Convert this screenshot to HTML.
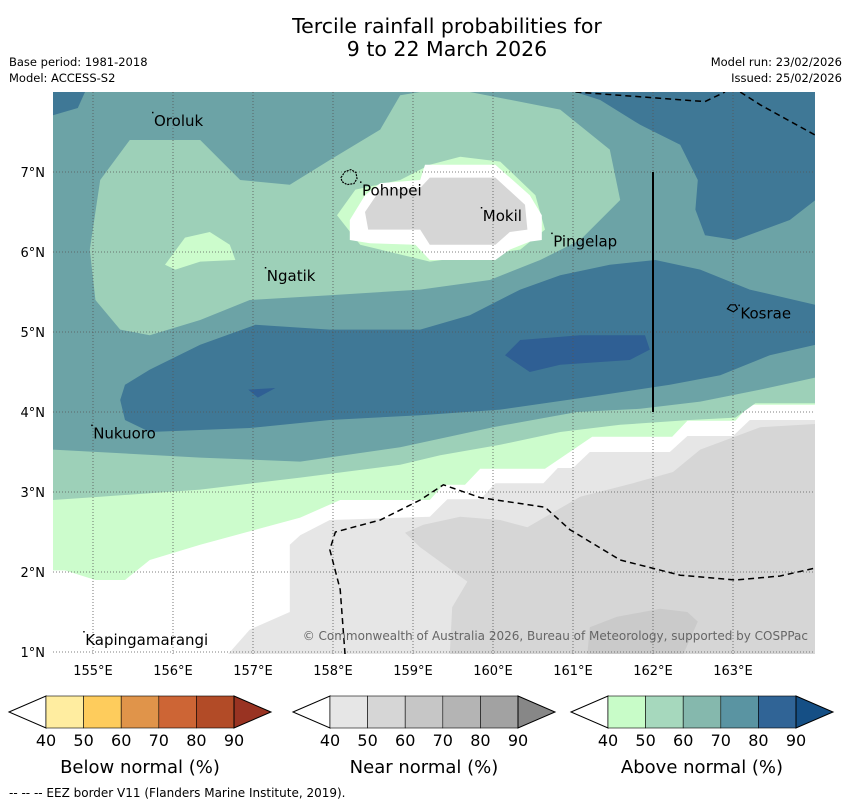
<!DOCTYPE html>
<html><head><meta charset="utf-8"><style>
html,body{margin:0;padding:0;background:#fff;}
svg{display:block;font-family:"DejaVu Sans","Liberation Sans",sans-serif;}
</style></head><body>
<svg id="map" width="850" height="804" viewBox="0 0 850 804" xmlns="http://www.w3.org/2000/svg">
<text x="447" y="33" font-size="20.5" text-anchor="middle">Tercile rainfall probabilities for</text>
<text x="447" y="56" font-size="20.5" text-anchor="middle">9 to 22 March 2026</text>
<text x="9" y="66" font-size="11.5">Base period: 1981-2018</text>
<text x="9" y="82" font-size="11.5">Model: ACCESS-S2</text>
<text x="842" y="66" font-size="11.5" text-anchor="end">Model run: 23/02/2026</text>
<text x="842" y="82" font-size="11.5" text-anchor="end">Issued: 25/02/2026</text>
<defs><clipPath id="mc"><rect x="53" y="92" width="762" height="562"/></clipPath></defs>
<rect x="53" y="92" width="762" height="562" fill="#fff"/>
<g id="layers" clip-path="url(#mc)"></g>
<g id="overlay"></g>
<text x="808" y="640" font-size="12" fill="#666" text-anchor="end">© Commonwealth of Australia 2026, Bureau of Meteorology, supported by COSPPac</text>
<g id="axes"></g>
<g id="legend"></g>
<text x="9" y="797" font-size="12">--  --  -- EEZ border V11 (Flanders Marine Institute, 2019).</text>
</svg>
<script>
// Map extent
const lonMin = 154.5, lonMax = 164.025, latMin = 0.975, latMax = 8;
const lonTicks = [155,156,157,158,159,160,161,162,163];
const latTicks = [1,2,3,4,5,6,7];
const legendTicks = ["40","50","60","70","80","90"];
const belowColors = ["#ffeda0","#fecc5c","#e0944a","#cd6535","#b24b27"];
const nearColors = ["#e6e6e6","#d6d6d6","#c6c6c6","#b4b4b4","#a2a2a2"];
const aboveColors = ["#c8fcc8","#a6d8bd","#85b8ad","#5a94a2","#306496"];

// Contour polygons [lon, lat]
const polyLightGreen = [[154.5,8],[164.03,8],[164.03,4.09],[163.21,4.09],[163.03,3.89],[162.43,3.89],[162.24,3.69],[161.24,3.69],[160.65,3.29],[159.84,3.29],[159.65,3.09],[159.38,3.09],[159.21,2.9],[158.09,2.9],[157.59,2.68],[156.34,2.34],[155.71,2.15],[155.4,1.9],[155.03,1.9],[154.65,2.02],[154.5,2.02]];
const polyGreen = [[154.5,8],[164.03,8],[164.03,4.11],[163.28,4.11],[163.03,3.93],[162.46,3.9],[161.59,3.84],[160.84,3.75],[160.09,3.59],[159.34,3.46],[158.84,3.34],[157.59,3.18],[156.34,3.03],[155.09,2.94],[154.5,2.9]];
const polyTeal = [[154.5,8],[164.03,8],[164.03,4.43],[163.34,4.28],[162.59,4.13],[161.84,4.04],[161.05,4.0],[160.0,3.81],[158.84,3.56],[157.59,3.38],[156.34,3.43],[154.5,3.53]];
const polyGreenBlob = [[154.96,6.03],[155.09,6.9],[155.46,7.4],[156.34,7.4],[156.84,6.9],[157.46,6.84],[157.96,7.15],[158.59,7.53],[158.84,7.96],[159.09,8],[159.71,8],[160.84,7.78],[161.46,7.28],[161.59,6.65],[161.09,6.15],[160.59,5.9],[159.96,5.65],[159.09,5.53],[157.96,5.46],[156.96,5.4],[156.34,5.15],[155.71,4.96],[155.34,5.03],[155.03,5.4]];
const polyHole = [[155.9,5.84],[156.15,6.18],[156.46,6.25],[156.71,6.09],[156.78,5.9],[156.34,5.88],[156.03,5.78]];
const polyBlueBand = [[155.4,4.34],[155.71,4.53],[156.34,4.84],[157.03,5.09],[157.96,5.03],[159.09,5.03],[159.71,5.21],[160.34,5.53],[160.84,5.71],[161.46,5.84],[162.03,5.9],[162.59,5.78],[163.21,5.53],[164.03,5.34],[164.03,4.84],[163.46,4.71],[162.84,4.46],[162.21,4.34],[161.34,4.21],[160.09,4.03],[159.09,3.96],[157.96,3.9],[156.96,3.8],[155.71,3.75],[155.4,3.9],[155.34,4.15]];
const polyBlueNE = [[161.03,8],[161.34,7.9],[161.84,7.59],[162.34,7.34],[162.56,6.9],[162.53,6.53],[162.65,6.21],[163.03,6.15],[163.71,6.4],[164.03,6.65],[164.03,8]];
const polyBlueNW = [[154.5,8],[154.9,8],[154.81,7.8],[154.5,7.71]];
const polyDarkBlue = [[160.15,4.71],[160.34,4.9],[161.09,4.96],[161.9,4.96],[161.96,4.78],[161.71,4.65],[160.84,4.59],[160.46,4.5]];
const polyDarkBlue2 = [[156.94,4.28],[157.28,4.3],[157.06,4.18]];
const polyHalo = [[158.05,6.46],[158.28,6.78],[158.84,6.9],[159.21,7.09],[159.59,7.19],[160.09,7.13],[160.53,6.71],[160.65,6.28],[160.34,6.03],[159.21,5.88],[158.34,6.09]];
const polyBubbleWhite = [[158.21,6.4],[158.4,6.71],[158.59,6.86],[159.09,6.9],[159.15,7.09],[160.03,7.09],[160.46,6.71],[160.61,6.46],[160.61,6.15],[160.46,6.13],[160.21,6.03],[160.03,5.9],[159.21,5.9],[159.03,6.09],[158.46,6.11],[158.21,6.15]];
const polyBubbleGray = [[158.4,6.5],[158.59,6.78],[159.09,6.8],[159.21,6.93],[160.03,6.93],[160.4,6.59],[160.43,6.28],[160.21,6.25],[160.03,6.09],[159.21,6.09],[159.09,6.28],[158.44,6.28]];
const polyGrayLight = [[156.69,0.975],[156.96,1.28],[157.46,1.5],[157.46,2.34],[157.59,2.46],[157.96,2.65],[159.21,2.69],[159.43,2.91],[159.84,2.91],[160.03,3.11],[160.63,3.11],[160.81,3.3],[161.0,3.3],[161.21,3.5],[162.21,3.5],[162.43,3.7],[163.0,3.7],[163.21,3.9],[164.03,3.9],[164.03,0.975]];
const polyGrayMid = [[158.9,2.49],[159.13,2.59],[159.59,2.69],[160.09,2.65],[160.43,2.56],[161.09,2.94],[161.75,3.11],[162.25,3.25],[162.59,3.53],[163.34,3.81],[164.03,3.85],[164.03,0.975],[159.46,0.975],[159.49,1.56],[159.68,1.88],[159.09,2.31]];
const polyGrayDark = [[161.18,0.975],[161.21,1.31],[161.55,1.44],[162.09,1.54],[162.43,1.5],[162.56,1.38],[162.38,0.975]];

const eezNorth1 = [[161.03,8],[162.65,7.88],[162.9,8]];
const eezNorth2 = [[163.09,8],[163.34,7.84],[164.03,7.46]];
const eezSouth = [[158.15,0.975],[158.09,1.78],[157.96,2.28],[158.03,2.5],[158.59,2.65],[159.09,2.9],[159.38,3.09],[159.84,2.93],[160.65,2.81],[160.96,2.53],[161.59,2.15],[162.34,1.96],[163.03,1.9],[163.59,1.95],[164.03,2.05]];
const boundaryLine = [[162,7],[162,4]];

const placeNames = ["Oroluk","Pohnpei","Mokil","Pingelap","Ngatik","Kosrae","Nukuoro","Kapingamarangi"];
const placeLon = [155.75,158.35,159.86,160.74,157.16,163.08,154.99,154.89];
const placeLat = [7.74,6.87,6.55,6.23,5.8,5.33,3.83,1.25];

const X0=53, X1=815, Y0=92, Y1=654;
function xs(lon){return X0+(lon-lonMin)/(lonMax-lonMin)*(X1-X0);}
function ys(lat){return Y1-(lat-latMin)/(latMax-latMin)*(Y1-Y0);}
const NS="http://www.w3.org/2000/svg";
function mk(tag,attrs,parent){const e=document.createElementNS(NS,tag);for(const k in attrs)e.setAttribute(k,attrs[k]);parent.appendChild(e);return e;}
function pts(p){return p.map(q=>xs(q[0]).toFixed(1)+","+ys(q[1]).toFixed(1)).join(" ");}

const layers=document.getElementById("layers");
const fills=[
 [polyLightGreen,"#ccfccc","band-40-50-above"],
 [polyGreen,"#9dd0b8","band-50-60-above-south"],
 [polyTeal,"#6ca3a6","band-60-70-above"],
 [polyGreenBlob,"#9dd0b8","band-50-60-above-north"],
 [polyHole,"#ccfccc","band-40-50-above-patch"],
 [polyBlueBand,"#3f7896","band-70-80-above-central"],
 [polyBlueNE,"#3f7896","band-70-80-above-northeast"],
 [polyBlueNW,"#3f7896","band-70-80-above-northwest"],
 [polyDarkBlue,"#2f5f94","band-80-90-above"],
 [polyDarkBlue2,"#2f5f94","band-80-90-above-small"],
 [polyHalo,"#ccfccc","bubble-halo"],
 [polyBubbleWhite,"#ffffff","bubble-neutral"],
 [polyBubbleGray,"#d6d6d6","bubble-near-normal"],
 [polyGrayLight,"#e6e6e6","band-40-50-near"],
 [polyGrayMid,"#d6d6d6","band-50-60-near"],
 [polyGrayDark,"#cacaca","band-60-70-near"]
];
for(const f of fills){
 const e=mk("polygon",{points:pts(f[0]),fill:f[1]},layers);
 
 
}
// grid
for(const lo of lonTicks){
 const g=mk("line",{x1:xs(lo),x2:xs(lo),y1:Y0,y2:Y1,stroke:"#555","stroke-width":0.8,"stroke-dasharray":"1,2"},layers);
 
 
}
for(const la of latTicks){
 const g=mk("line",{x1:X0,x2:X1,y1:ys(la),y2:ys(la),stroke:"#555","stroke-width":0.8,"stroke-dasharray":"1,2"},layers);
 
 
}
// EEZ lines
for(const l of [eezNorth1,eezNorth2,eezSouth]){
 const e=mk("polyline",{points:pts(l),fill:"none",stroke:"#000","stroke-width":1.5,"stroke-dasharray":"6,4"},layers);
 
 
}
const bl=mk("polyline",{points:pts(boundaryLine),fill:"none",stroke:"#000","stroke-width":2},layers);


// islands
const isl1=mk("path",{d:`M${xs(158.1)},${ys(6.93)} l4,-6 l6,-2 l5,3 l1,6 l-3,5 l-7,1 l-5,-3 z`,fill:"none",stroke:"#000","stroke-width":1.2,"stroke-dasharray":"2,1"},layers);


const isl2=mk("path",{d:`M${xs(162.93)},${ys(5.29)} l3,-4 l5,0 l2,4 l-4,3 z`,fill:"none",stroke:"#000","stroke-width":1.2},layers);


// place labels
const ov=document.getElementById("overlay");
placeNames.forEach((n,i)=>{
 const t=mk("text",{x:xs(placeLon[i])+1,y:ys(placeLat[i])+13,"font-size":15},ov);
 t.textContent=n;
 
 
 const d=mk("rect",{x:xs(placeLon[i])-1,y:ys(placeLat[i])-1,width:1.5,height:1.5,fill:"#000"},ov);
 
 
});
// axes
const ax=document.getElementById("axes");
for(const lo of lonTicks){
 const t=mk("text",{x:xs(lo),y:675,"font-size":13,"text-anchor":"middle"},ax);
 t.textContent=lo+"°E";
 
 
}
for(const la of latTicks){
 const t=mk("text",{x:45,y:ys(la)+5,"font-size":13,"text-anchor":"end"},ax);
 t.textContent=la+"°N";
 
 
}
// legends
const lg=document.getElementById("legend");
function colorbar(x0,cols,endCol,title,nm){
 const w=37.6, y0=696, h=32, tip=37;
 const g=mk("g",{},lg);
 
 
 const lt=mk("polygon",{points:`${x0-tip},${y0+h/2} ${x0},${y0} ${x0},${y0+h}`,fill:"#fff",stroke:"#000","stroke-width":1},g);
 
 
 cols.forEach((c,i)=>{
  const r=mk("rect",{x:x0+i*w,y:y0,width:w,height:h,fill:c,stroke:"#000","stroke-width":0.6},g);
  
  
 });
 const xe=x0+cols.length*w;
 const rt=mk("polygon",{points:`${xe},${y0} ${xe+tip},${y0+h/2} ${xe},${y0+h}`,fill:endCol,stroke:"#000","stroke-width":1},g);
 
 
 legendTicks.forEach((s,i)=>{
  const t=mk("text",{x:x0+i*w,y:746,"font-size":16,"text-anchor":"middle"},g);
  t.textContent=s;
  
  
 });
 const tt=mk("text",{x:x0+cols.length*w/2,y:773,"font-size":18,"text-anchor":"middle"},g);
 tt.textContent=title;
 
 
}
colorbar(46,belowColors,"#993322","Below normal (%)","below-normal-colorbar");
colorbar(330,nearColors,"#878787","Near normal (%)","near-normal-colorbar");
colorbar(608,aboveColors,"#154f85","Above normal (%)","above-normal-colorbar");
</script>
</body></html>
